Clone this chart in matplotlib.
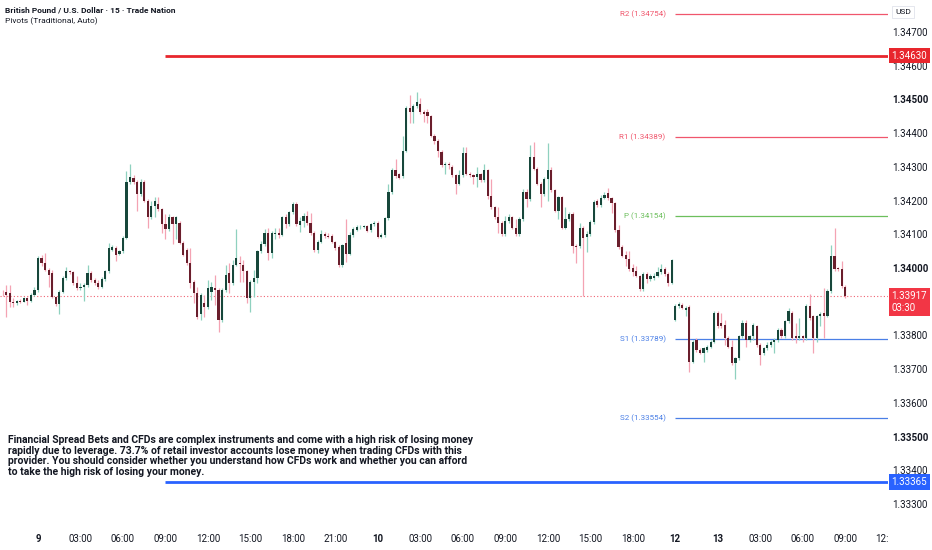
import matplotlib
matplotlib.use("Agg")
import matplotlib.pyplot as plt
from matplotlib.patches import Rectangle
import numpy as np

plt.rcParams['font.family'] = ['Roboto', 'DejaVu Sans']

# 15-minute GBP/USD bars, prices as points above 1.33000 (1 point = 0.00001)
# bar index 0 = 9th 00:00, 180 = Sunday 12th 21:00 (after weekend gap)
opens = [
    927, 930, 925, 900, 895, 902, 900, 910, 902, 920,
    935, 1030, 1015, 995, 985, 915, 893, 930, 970, 990,
    987, 955, 940, 945, 950, 985, 965, 957, 945, 968,
    990, 1055, 1060, 1042, 1050, 1090, 1255, 1267, 1255, 1220,
    1255, 1200, 1150, 1185, 1190, 1175, 1130, 1115, 1150, 1130,
    1135, 1075, 1055, 1015, 960, 925, 865, 895, 885, 930,
    940, 935, 845, 935, 985, 955, 1010, 1015, 1010, 990,
    910, 960, 970, 1050, 1070, 1105, 1045, 1100, 1105, 1098,
    1150, 1130, 1165, 1190, 1128, 1140, 1155, 1135, 1105, 1053,
    1078, 1100, 1096, 1095, 1078, 1063, 1008, 1075, 1043, 1098,
    1113, 1121, 1123, 1125, 1113, 1131, 1135, 1093, 1098, 1148,
    1225, 1291, 1278, 1273, 1348, 1475, 1463, 1481, 1488, 1463,
    1463, 1451, 1393, 1378, 1345, 1305, 1310, 1300, 1275, 1250,
    1275, 1340, 1280, 1275, 1270, 1278, 1260, 1290, 1215, 1180,
    1150, 1135, 1100, 1140, 1150, 1120, 1100, 1145, 1225, 1205,
    1330, 1295, 1250, 1220, 1265, 1290, 1230, 1170, 1210, 1120,
    1145, 1160, 1065, 1065, 1120, 1092, 1100, 1137, 1200, 1187,
    1209, 1222, 1209, 1192, 1112, 1062, 1039, 1027, 1000, 990,
    977, 939, 982, 967, 970, 977, 987, 997, 982, 957,
    847, 887, 890, 877, 885, 722, 787, 757, 749, 757,
    767, 782, 867, 837, 832, 792, 767, 717, 732, 797,
    837, 787, 797, 829, 772, 747, 762, 772, 782, 787,
    817, 799, 842, 867, 797, 792, 797, 792, 887, 857,
    792, 857, 867, 859, 932, 1037, 999, 997, 945,
]
highs = [
    935, 950, 950, 910, 906, 908, 915, 914, 925, 945,
    1035, 1040, 1045, 1000, 995, 918, 935, 975, 1003, 995,
    990, 977, 955, 955, 1010, 990, 970, 965, 972, 995,
    1075, 1068, 1065, 1055, 1095, 1287, 1310, 1275, 1260, 1265,
    1262, 1205, 1200, 1210, 1210, 1178, 1160, 1160, 1155, 1155,
    1140, 1080, 1060, 1060, 965, 945, 925, 920, 965, 960,
    980, 940, 940, 1010, 1015, 1025, 1115, 1035, 1025, 995,
    965, 995, 1055, 1080, 1115, 1120, 1110, 1120, 1120, 1155,
    1160, 1170, 1195, 1195, 1150, 1163, 1168, 1163, 1110, 1082,
    1113, 1108, 1103, 1100, 1080, 1068, 1072, 1145, 1108, 1123,
    1128, 1127, 1128, 1128, 1135, 1140, 1140, 1103, 1152, 1248,
    1296, 1323, 1283, 1393, 1480, 1513, 1488, 1521, 1503, 1468,
    1473, 1455, 1398, 1383, 1350, 1315, 1315, 1305, 1278, 1290,
    1360, 1360, 1285, 1280, 1300, 1282, 1310, 1295, 1265, 1185,
    1180, 1140, 1155, 1160, 1155, 1145, 1150, 1235, 1235, 1365,
    1375, 1300, 1255, 1270, 1370, 1300, 1235, 1215, 1215, 1180,
    1165, 1165, 1070, 1135, 1125, 1110, 1142, 1202, 1205, 1217,
    1227, 1237, 1212, 1197, 1127, 1067, 1052, 1052, 1012, 1007,
    980, 987, 987, 982, 985, 1002, 1012, 1002, 987, 1027,
    892, 899, 895, 887, 890, 787, 792, 762, 767, 772,
    787, 872, 872, 867, 847, 797, 787, 737, 802, 847,
    847, 802, 837, 832, 777, 767, 782, 787, 792, 822,
    822, 847, 882, 872, 837, 852, 802, 892, 922, 862,
    862, 870, 942, 937, 1067, 1119, 1004, 1022, 950,
]
lows = [
    918, 855, 885, 885, 890, 895, 898, 890, 900, 918,
    930, 1005, 990, 945, 912, 888, 865, 925, 965, 983,
    950, 935, 935, 903, 945, 960, 950, 937, 940, 963,
    985, 1050, 1020, 1038, 1045, 1085, 1250, 1250, 1170, 1215,
    1195, 1120, 1145, 1150, 1170, 1105, 1085, 1110, 1070, 1085,
    1070, 1035, 1010, 940, 895, 850, 845, 855, 880, 905,
    890, 810, 840, 930, 925, 950, 1005, 960, 960, 895,
    870, 915, 955, 1045, 1065, 1025, 1030, 1085, 1090, 1095,
    1120, 1125, 1160, 1125, 1108, 1123, 1128, 1098, 1048, 1045,
    1073, 1090, 1088, 1073, 1053, 1003, 1003, 1018, 1038, 1093,
    1110, 1117, 1120, 1107, 1108, 1125, 1088, 1088, 1093, 1143,
    1220, 1268, 1263, 1268, 1343, 1430, 1430, 1476, 1458, 1433,
    1430, 1388, 1368, 1328, 1300, 1280, 1295, 1270, 1220, 1245,
    1270, 1275, 1270, 1250, 1240, 1255, 1255, 1205, 1175, 1145,
    1105, 1095, 1095, 1135, 1115, 1095, 1095, 1140, 1180, 1200,
    1290, 1245, 1180, 1215, 1200, 1225, 1165, 1145, 1115, 1115,
    1140, 1045, 1015, 1060, 917, 1047, 1095, 1132, 1180, 1182,
    1205, 1202, 1162, 1107, 1057, 1032, 1007, 992, 977, 972,
    932, 932, 957, 962, 965, 972, 982, 977, 947, 952,
    842, 882, 878, 857, 692, 717, 752, 744, 722, 752,
    762, 777, 822, 822, 772, 762, 712, 672, 727, 792,
    767, 782, 787, 767, 712, 742, 757, 767, 747, 782,
    794, 794, 837, 787, 777, 787, 782, 787, 847, 747,
    782, 827, 792, 854, 927, 992, 990, 942, 912,
]
closes = [
    925, 920, 900, 895, 902, 900, 910, 902, 920, 935,
    1030, 1015, 995, 980, 915, 893, 930, 970, 990, 987,
    955, 940, 945, 950, 985, 965, 957, 945, 968, 990,
    1060, 1062, 1040, 1050, 1090, 1255, 1270, 1255, 1220, 1255,
    1200, 1150, 1185, 1200, 1175, 1130, 1115, 1150, 1130, 1150,
    1075, 1040, 1015, 955, 925, 855, 920, 885, 940, 945,
    935, 845, 935, 980, 955, 1010, 1030, 1012, 990, 910,
    960, 970, 1050, 1070, 1105, 1045, 1105, 1105, 1098, 1150,
    1130, 1165, 1190, 1130, 1140, 1155, 1133, 1103, 1053, 1078,
    1100, 1096, 1093, 1078, 1060, 1008, 1068, 1043, 1098, 1115,
    1123, 1123, 1125, 1111, 1131, 1135, 1093, 1098, 1148, 1225,
    1291, 1273, 1268, 1348, 1475, 1463, 1481, 1491, 1463, 1458,
    1451, 1393, 1378, 1348, 1305, 1310, 1305, 1275, 1250, 1275,
    1340, 1280, 1275, 1270, 1278, 1262, 1290, 1215, 1180, 1150,
    1135, 1100, 1140, 1150, 1120, 1100, 1145, 1225, 1205, 1330,
    1295, 1250, 1220, 1265, 1290, 1230, 1170, 1210, 1120, 1145,
    1160, 1065, 1062, 1120, 1090, 1100, 1137, 1197, 1187, 1209,
    1217, 1207, 1192, 1112, 1062, 1037, 1027, 997, 987, 977,
    937, 982, 967, 977, 977, 987, 997, 982, 957, 1025,
    887, 892, 882, 882, 722, 782, 757, 749, 762, 767,
    782, 867, 827, 827, 792, 767, 717, 732, 797, 837,
    787, 797, 832, 772, 742, 762, 772, 782, 787, 817,
    799, 842, 872, 792, 792, 797, 792, 887, 852, 792,
    857, 865, 859, 932, 1037, 997, 997, 947, 917,
]
first_bar = -10

# pivots (traditional)
pivot_names = ['R2', 'R1', 'P', 'S1', 'S2']
pivot_values = [1.34754, 1.34389, 1.34154, 1.33789, 1.33554]
pivot_colors = ['#f0566c', '#f0566c', '#6cbf5c', '#4a7fe6', '#4a7fe6']
pivot_start = 180

# drawn horizontal levels
level_values = [1.34630, 1.33365]
level_colors = ['#e8262d', '#2962ff']
level_start = 36

last_price = 1.33917
countdown = '03:30'

# axes labels (1.33900 sits under the last-price box)
price_ticks = [1.333, 1.334, 1.335, 1.336, 1.337, 1.338, 1.340, 1.341,
               1.342, 1.343, 1.344, 1.345, 1.346, 1.347]
time_pos = [0, 12, 24, 36, 48, 60, 72, 84, 96, 108, 120, 132, 144, 156, 168,
            180, 192, 204, 216, 228, 240]
time_labels = ['9', '03:00', '06:00', '09:00', '12:00', '15:00', '18:00', '21:00',
               '10', '03:00', '06:00', '09:00', '12:00', '15:00', '18:00',
               '12', '13', '03:00', '06:00', '09:00', '12:00']

disclaimer = ("Financial Spread Bets and CFDs are complex instruments and come with a high risk of losing money\n"
              "rapidly due to leverage. 73.7% of retail investor accounts lose money when trading CFDs with this\n"
              "provider. You should consider whether you understand how CFDs work and whether you can afford\n"
              "to take the high risk of losing your money.")

# ---------------------------------------------------------------
o = 1.33 + np.array(opens) / 1e5
h = 1.33 + np.array(highs) / 1e5
l = 1.33 + np.array(lows) / 1e5
c = 1.33 + np.array(closes) / 1e5
assert len(o) == len(h) == len(l) == len(c)
x = np.arange(first_bar, first_bar + len(o))

fig = plt.figure(figsize=(9.32, 5.5), dpi=100)
ax = fig.add_axes([0, 22 / 550, 888 / 932, 528 / 550])
ax.set_xlim(-10.73, 240.1)
ax.set_ylim(1.33229, 1.34795)

up = c >= o
wick_col = np.where(up, '#8fd1bf', '#f4a3b3')
body_col = np.where(up, '#17473b', '#6a1e2c')
ax.vlines(x, l, h, colors=wick_col, linewidth=0.9, zorder=2)
body_h = np.maximum(np.abs(c - o), 0.000012)
ax.bar(x, body_h, bottom=np.minimum(o, c), width=0.62, color=body_col,
       linewidth=0, zorder=3)

# levels
for val, col in zip(level_values, level_colors):
    ax.hlines(val, level_start, 240.1, color=col, linewidth=2, zorder=4)
    ax.annotate(f"{val:.5f}", xy=(1, val), xycoords=ax.get_yaxis_transform(),
                xytext=(2.5, 0), textcoords='offset points', ha='left', va='center',
                fontsize=7, color='white', annotation_clip=False, zorder=10,
                bbox=dict(boxstyle='square,pad=0.28', fc=col, ec='none'))

for name, val, col in zip(pivot_names, pivot_values, pivot_colors):
    ax.hlines(val, pivot_start, 240.1, color=col, linewidth=0.9, zorder=1)
    ax.annotate(f"{name} ({val:.5f})", xy=(pivot_start, val), xytext=(-7, 0),
                textcoords='offset points', ha='right', va='center',
                fontsize=5.8, color=col)

ax.axhline(last_price, color='#f06272', linewidth=0.8, linestyle=(0, (1, 2)), zorder=1)
ax.annotate(f"{last_price:.5f}\n{countdown}", xy=(1, last_price),
            xycoords=ax.get_yaxis_transform(), xytext=(2.5, -4.5),
            textcoords='offset points', ha='left', va='center', fontsize=7,
            color='white', linespacing=1.25, annotation_clip=False, zorder=10,
            bbox=dict(boxstyle='square,pad=0.3', fc='#f23645', ec='none'))

# axes styling
for s in ax.spines.values():
    s.set_visible(False)
ax.yaxis.tick_right()
ax.set_yticks(price_ticks)
ax.set_yticklabels([f"{v:.5f}" for v in price_ticks])
for v, lab in zip(price_ticks, ax.get_yticklabels()):
    if round(v * 1000) % 5 == 0:
        lab.set_fontweight('bold')
ax.tick_params(axis='y', length=0, pad=3, labelsize=7, labelcolor='#131722')
ax.set_xticks(time_pos)
ax.set_xticklabels(time_labels)
for lab in ax.get_xticklabels():
    if ':' not in lab.get_text():
        lab.set_fontweight('bold')
ax.tick_params(axis='x', length=0, pad=4, labelsize=7, labelcolor='#131722')

# hide the part of the last time label under the price scale
fig.add_artist(Rectangle((888 / 932, 0), 44 / 932, 22 / 550, transform=fig.transFigure,
                         facecolor='white', edgecolor='none', zorder=20))

fig.text(5 / 932, 1 - 10 / 550, 'British Pound / U.S. Dollar · 15 · Trade Nation',
         fontsize=6, fontweight='semibold', color='#131722', va='center')
fig.text(5 / 932, 1 - 21 / 550, 'Pivots (Traditional, Auto)',
         fontsize=6, color='#131722', va='center')
fig.text(895 / 932, 1 - 12 / 550, 'USD', fontsize=6, color='#131722', va='center',
         bbox=dict(boxstyle='square,pad=0.35', fc='white', ec='#e0e3eb', lw=0.6))

fig.text(8 / 932, 1 - 435 / 550, disclaimer, fontsize=7.5, fontweight='semibold',
         color='#131722', va='top', ha='left', linespacing=1.08)

fig.savefig('out.png', dpi=100)
